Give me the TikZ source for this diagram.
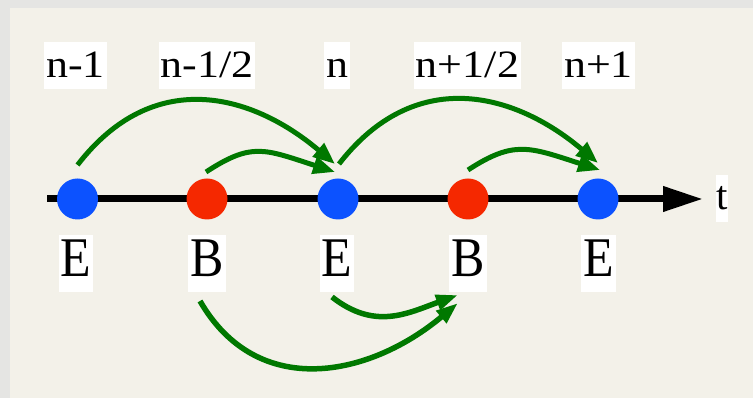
\documentclass[tikz,border=0pt]{standalone}
\usepackage{fontspec}
\usepackage{graphicx}
\setmainfont{Liberation Serif}
\usetikzlibrary{arrows.meta,calc}
\definecolor{bgout}{RGB}{229,229,227}
\definecolor{panel}{RGB}{243,241,233}
\definecolor{dotblue}{RGB}{12,82,255}
\definecolor{dotred}{RGB}{245,40,0}
\definecolor{arcgreen}{RGB}{0,120,0}
\newcommand{\sqz}[1]{\scalebox{1}[0.88]{#1}}
\newcommand{\strc}[1]{\scalebox{1}[1.12]{#1}}
\begin{document}
\begin{tikzpicture}[x=1pt,y=1pt,
  edot/.style={circle,fill=dotblue,minimum size=41pt,inner sep=0pt},
  bdot/.style={circle,fill=dotred,minimum size=41pt,inner sep=0pt},
  toplab/.style={fill=white,inner xsep=2pt,inner ysep=0pt,text height=36pt,text depth=11pt,anchor=base,font=\fontsize{44}{48}\selectfont},
  fieldlab/.style={fill=white,inner xsep=2pt,inner ysep=0pt,text height=42pt,text depth=15pt,anchor=base,font=\fontsize{50}{56}\selectfont},
  axlab/.style={fill=white,inner xsep=0.5pt,inner ysep=0pt,text height=35pt,text depth=12pt,anchor=base,font=\fontsize{41}{46}\selectfont},
  upd/.style={draw=arcgreen,line width=5pt,-{Triangle[length=22pt,width=17pt]}},
  lowupd/.style={draw=arcgreen,line width=5.5pt,-{Triangle[length=22pt,width=15pt]}},
  timeaxis/.style={line width=7pt,-{Triangle[length=40pt,width=24pt]}}]
% background
\fill[bgout] (0,0) rectangle (753,398);
\fill[panel] (10,0) rectangle (753,390);
\useasboundingbox (0,0) rectangle (753,398);
% axis
\coordinate (axs) at (47,199);
\coordinate (axe) at (703,199);
\draw[timeaxis] (axs) -- (axe);
% dots
\node[edot] (e1) at (77.5,199) {};
\node[bdot] (b1) at (207,199) {};
\node[edot] (e2) at (338,199) {};
\node[bdot] (b2) at (468,199) {};
\node[edot] (e3) at (598,199) {};
% top labels
\node[toplab] (t1) at (75.5,320) {\sqz{n-1}};
\node[toplab] (t2) at (207,320) {\sqz{n-1/2}};
\node[toplab] (t3) at (337,320) {\sqz{n}};
\node[toplab] (t4) at (467.5,320) {\sqz{n+1/2}};
\node[toplab] (t5) at (598.5,320) {\sqz{n+1}};
% field labels
\node[fieldlab] (f1) at (76,121) {\strc{E}};
\node[fieldlab] (f2) at (207,121) {\strc{B}};
\node[fieldlab] (f3) at (337,121) {\strc{E}};
\node[fieldlab] (f4) at (468,121) {\strc{B}};
\node[fieldlab] (f5) at (598.5,121) {\strc{E}};
% axis label
\node[axlab] (tl) at (722,188) {t};
% upper updates
\draw[upd] ($(e1)+(0,34)$) .. controls ($(e1)+(75.5,132)$) and ($(e2)+(-87,106)$) .. ($(e2)+(-3,35)$);
\draw[upd] ($(b1)+(-1,27)$) .. controls ($(b1)+(45,57)$) and ($(e2)+(-74,50)$) .. ($(e2)+(-3,27)$);
\draw[upd] ($(e2)+(1,35)$) .. controls ($(e2)+(77,133)$) and ($(e3)+(-84,107)$) .. ($(e3)+(0,36)$);
\draw[upd] ($(b2)+(0,29)$) .. controls ($(b2)+(46,59)$) and ($(e3)+(-69,52)$) .. ($(e3)+(2,29)$);
% lower updates
\draw[lowupd] ($(b1)+(-7,-102)$) to[out=-60,in=220,looseness=1.14] ($(b2)+(-10,-104)$);
\draw[lowupd] ($(e2)+(-6,-98)$) to[out=-38,in=200,looseness=1.1] ($(b2)+(-10,-96)$);
\end{tikzpicture}
\end{document}
